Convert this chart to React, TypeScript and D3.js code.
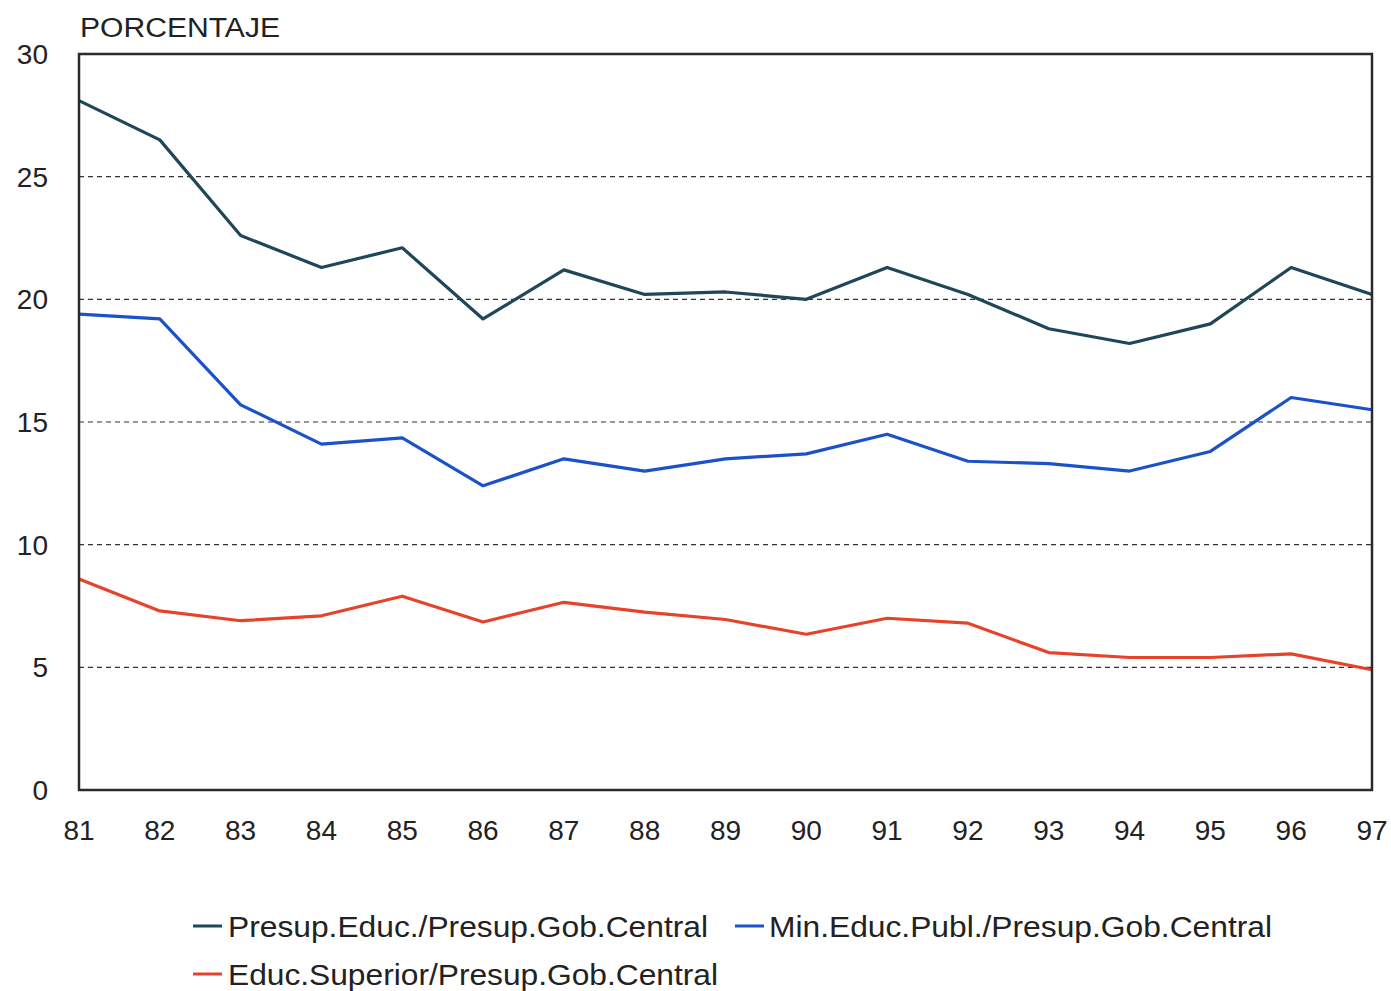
import * as d3 from "d3"

const years = ["81", "82", "83", "84", "85", "86", "87", "88", "89", "90", "91", "92", "93", "94", "95", "96", "97"]
const presupEduc = [28.1, 26.5, 22.6, 21.3, 22.1, 19.2, 21.2, 20.2, 20.3, 20.0, 21.3, 20.2, 18.8, 18.2, 19.0, 21.3, 20.2]
const minEduc = [19.4, 19.2, 15.7, 14.1, 14.35, 12.4, 13.5, 13.0, 13.5, 13.7, 14.5, 13.4, 13.3, 13.0, 13.8, 16.0, 15.5]
const educSuperior = [8.6, 7.3, 6.9, 7.1, 7.9, 6.85, 7.65, 7.25, 6.95, 6.35, 7.0, 6.8, 5.6, 5.4, 5.4, 5.55, 4.9]
const yTicks = [0, 5, 10, 15, 20, 25, 30]

const series = [
  { name: "Presup.Educ./Presup.Gob.Central", values: presupEduc, color: "#1f4659" },
  { name: "Min.Educ.Publ./Presup.Gob.Central", values: minEduc, color: "#1c52c9" },
  { name: "Educ.Superior/Presup.Gob.Central", values: educSuperior, color: "#e6432b" },
]

const W = 1391
const H = 991
const M = { top: 54, right: 19, bottom: 201, left: 79 }
const FONT = "'Liberation Sans', Arial, sans-serif"

export default function App() {
  const iw = W - M.left - M.right
  const ih = H - M.top - M.bottom

  const x = d3.scalePoint().domain(years).range([0, iw])
  const y = d3.scaleLinear().domain([0, 30]).range([ih, 0])

  const line = d3
    .line<number>()
    .x((_, i) => x(years[i])!)
    .y((d) => y(d))

  // legend layout: two on first row, one on second
  const legend = [
    { lx: 193, ly: 926, tx: 228, len: 480 },
    { lx: 735, ly: 926, tx: 769, len: 503 },
    { lx: 193, ly: 974, tx: 228, len: 490 },
  ]

  return (
    <svg
      width={W}
      height={H}
      style={{ position: "absolute", left: 0, top: 0, background: "#fff" }}
      fontFamily={FONT}
    >
      <text x={80} y={37} fontSize={27} fill="#222" textLength={200} lengthAdjust="spacingAndGlyphs">
        PORCENTAJE
      </text>
      <g transform={`translate(${M.left},${M.top})`}>
        {yTicks
          .filter((t) => t > 0 && t < 30)
          .map((t) => (
            <line
              key={t}
              x1={0}
              x2={iw}
              y1={y(t)}
              y2={y(t)}
              stroke="#333"
              strokeWidth={1.2}
              strokeDasharray="5,4"
            />
          ))}
        {yTicks.map((t) => (
          <text
            key={t}
            x={-31}
            y={y(t)}
            dy="0.36em"
            textAnchor="end"
            fontSize={28}
            fill="#222"
          >
            {t}
          </text>
        ))}
        {years.map((yr) => (
          <text key={yr} x={x(yr)} y={ih + 50} textAnchor="middle" fontSize={28} fill="#222">
            {yr}
          </text>
        ))}
        {series.map((s) => (
          <path
            key={s.name}
            d={line(s.values)!}
            fill="none"
            stroke={s.color}
            strokeWidth={3.2}
            strokeLinejoin="round"
          />
        ))}
        <rect x={0} y={0} width={iw} height={ih} fill="none" stroke="#2a2a2a" strokeWidth={2.5} />
      </g>
      {series.map((s, i) => {
        const l = legend[i]
        return (
          <g key={s.name}>
            <line x1={l.lx} x2={l.lx + 29} y1={l.ly} y2={l.ly} stroke={s.color} strokeWidth={3} />
            <text
              x={l.tx}
              y={l.ly + 11}
              fontSize={29}
              fill="#222"
              textLength={l.len}
              lengthAdjust="spacingAndGlyphs"
            >
              {s.name}
            </text>
          </g>
        )
      })}
    </svg>
  )
}
